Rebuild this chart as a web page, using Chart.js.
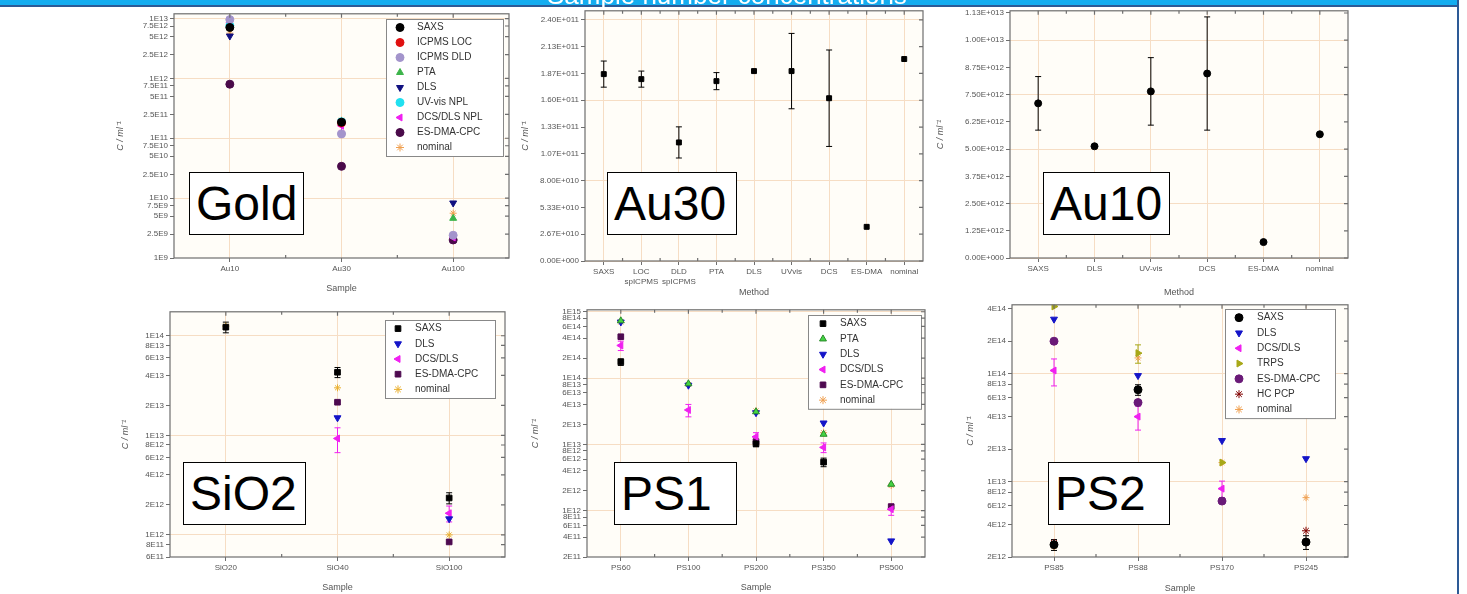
<!DOCTYPE html>
<html>
<head>
<meta charset="utf-8">
<script src="https://cdn.jsdelivr.net/npm/chart.js@4.4.1/dist/chart.umd.min.js"></script>
<style>
  body { margin: 0; width: 1467px; height: 594px; position: relative; overflow: hidden; background: #fff; font-family: "Liberation Sans", Arial, sans-serif; }
  .banner { position: absolute; left: 0; top: 0; width: 1457px; height: 5px; background: #14adf0; border-bottom: 2px solid #2d5a96; }
  .titlewrap { position: absolute; left: 0; top: 0; width: 1457px; height: 7px; overflow: hidden; z-index: 5; }
  .title { position: absolute; left: 547px; top: -18px; font-size: 26px; line-height: 26px; color: #fff; white-space: nowrap; }
  .rightline { position: absolute; left: 1457px; top: 0; width: 2px; height: 594px; background: #2d5a96; }
  canvas { position: absolute; }
  .tag { position: absolute; background: #fff; border: 1px solid #000; box-sizing: border-box; height: 63px; font-size: 48px; display: flex; align-items: center; padding-left: 6px; color: #000; z-index: 4; }
</style>
</head>
<body>
<div class="banner"></div>
<div class="rightline"></div>
<div class="titlewrap"><div class="title">Sample number concentrations</div></div>

<div class="tag" style="left:189px;top:172px;width:115px;">Gold</div>
<div class="tag" style="left:607px;top:172px;width:130px;">Au30</div>
<div class="tag" style="left:1043px;top:172px;width:127px;">Au10</div>
<div class="tag" style="left:183px;top:462px;width:123px;">SiO2</div>
<div class="tag" style="left:614px;top:462px;width:123px;">PS1</div>
<div class="tag" style="left:1048px;top:462px;width:122px;">PS2</div>

<script>
// ---- Gold (log) ----
const goldSamples = ['Au10', 'Au30', 'Au100'];
const goldSAXS    = [7.1e12, 1.86e11, null];
const goldIcpLoc  = [null, 1.81e11, null];
const goldIcpDld  = [9.6e12, 1.18e11, 2.4e9];
const goldPTA     = [null, 1.79e11, 4.6e9];
const goldDLS     = [5.1e12, 1.89e11, 8.3e9];
const goldUV      = [7.6e12, 1.89e11, null];
const goldDCS     = [8.5e12, 1.62e11, 2.2e9];
const goldDCSErr  = [1.5e12, 3e10, 4e8];
const goldESDMA   = [8.0e11, 3.4e10, 2.0e9];
const goldNominal = [5.7e12, 2.0e11, 5.6e9];
const goldTicks = [1e9, 2.5e9, 5e9, 7.5e9, 1e10, 2.5e10, 5e10, 7.5e10, 1e11, 2.5e11, 5e11, 7.5e11, 1e12, 2.5e12, 5e12, 7.5e12, 1e13];
const goldGrid = [1e10, 1e11, 1e12, 1e13];

// ---- Au30 (linear) ----
const au30Methods = ['SAXS', ['LOC', 'spICPMS'], ['DLD', 'spICPMS'], 'PTA', 'DLS', 'UVvis', 'DCS', 'ES-DMA', 'nominal'];
const au30Conc = [1.86e11, 1.81e11, 1.18e11, 1.79e11, 1.89e11, 1.89e11, 1.62e11, 3.4e10, 2.01e11];
const au30Err  = [1.3e10, 0.8e10, 1.55e10, 0.85e10, null, 3.75e10, 4.8e10, null, null];
const au30Ticks = [0, 2.6667e10, 5.3333e10, 8e10, 1.0667e11, 1.3333e11, 1.6e11, 1.8667e11, 2.1333e11, 2.4e11];
const au30Grid = [0, 8e10, 1.6e11, 2.4e11];

// ---- Au10 (linear) ----
const au10Methods = ['SAXS', 'DLS', 'UV-vis', 'DCS', 'ES-DMA', 'nominal'];
const au10Conc = [7.1e12, 5.13e12, 7.65e12, 8.47e12, 7.3e11, 5.68e12];
const au10Err  = [1.23e12, null, 1.55e12, 2.6e12, null, null];
const au10Ticks = [0, 1.25e12, 2.5e12, 3.75e12, 5e12, 6.25e12, 7.5e12, 8.75e12, 1e13, 1.125e13];
const au10Grid = [0, 2.5e12, 5e12, 7.5e12, 1e13];

// ---- SiO2 (log) ----
const siSamples = ['SiO20', 'SiO40', 'SiO100'];
const siSAXS    = [1.22e14, 4.3e13, 2.35e12];
const siSAXSErr = [1.5e13, 5e12, 3e11];
const siDLS     = [null, 1.5e13, 1.45e12];
const siDCS     = [null, 9.3e12, 1.65e12];
const siDCSErr  = [null, 2.6e12, 3e11];
const siESDMA   = [null, 2.15e13, 8.5e11];
const siNominal = [1.25e14, 3.0e13, 1.0e12];
const siTicks = [6e11, 8e11, 1e12, 2e12, 4e12, 6e12, 8e12, 1e13, 2e13, 4e13, 6e13, 8e13, 1e14];
const siGrid = [1e12, 1e13, 1e14];

// ---- PS1 (log) ----
const ps1Samples = ['PS60', 'PS100', 'PS200', 'PS350', 'PS500'];
const ps1SAXS    = [1.75e14, null, 1.02e13, 5.4e12, null];
const ps1SAXSErr = [2e13, null, 1e12, 8e11, null];
const ps1PTA     = [7.3e14, 8.2e13, 3.1e13, 1.42e13, 2.5e12];
const ps1DLS     = [7.0e14, 7.8e13, 3.0e13, 2.1e13, 3.5e11];
const ps1DCS     = [3.1e14, 3.3e13, 1.3e13, 9.0e12, 1.05e12];
const ps1DCSErr  = [5e13, 7e12, 2e12, 1.5e12, 2e11];
const ps1ESDMA   = [4.2e14, null, 1.1e13, null, 1.15e12];
const ps1Nominal = [7.0e14, 8.0e13, 3.2e13, 1.5e13, 2.4e12];
const ps1Ticks = [2e11, 4e11, 6e11, 8e11, 1e12, 2e12, 4e12, 6e12, 8e12, 1e13, 2e13, 4e13, 6e13, 8e13, 1e14, 2e14, 4e14, 6e14, 8e14, 1e15];
const ps1Grid = [1e12, 1e13, 1e14, 1e15];

// ---- PS2 (log) ----
const ps2Samples = ['PS85', 'PS88', 'PS170', 'PS245'];
const ps2SAXS    = [2.6e12, 7.1e13, null, 2.75e12];
const ps2SAXSErr = [3e11, 8e12, null, 4e11];
const ps2DLS     = [3.2e14, 9.6e13, 2.4e13, 1.63e13];
const ps2DCS     = [1.07e14, 4.0e13, 8.6e12, null];
const ps2DCSErr  = [3e13, 1e13, 1.5e12, null];
const ps2TRPS    = [4.2e14, 1.55e14, 1.5e13, null];
const ps2TRPSErr = [null, 3e13, null, null];
const ps2ESDMA   = [2.0e14, 5.4e13, 6.6e12, null];
const ps2HCPCP   = [2.7e12, null, null, 3.5e12];
const ps2Nominal = [2.5e12, 1.4e14, 1.5e13, 7.1e12];
const ps2Ticks = [2e12, 4e12, 6e12, 8e12, 1e13, 2e13, 4e13, 6e13, 8e13, 1e14, 2e14, 4e14];
const ps2Grid = [1e13, 1e14];

const GRID = '#f6ddc4';
const AXIS = '#6e6e6e';
const TXT = '#555';
const FONT = "'Liberation Sans', Arial, sans-serif";
Chart.defaults.font.family = FONT;

function fmtShort(v) {
  const e = Math.floor(Math.log10(v) + 1e-9);
  const m = +(v / Math.pow(10, e)).toFixed(2);
  return m + 'E' + e;
}
function fmtOrigin(v) {
  if (v === 0) return '0.00E+000';
  let e = Math.floor(Math.log10(v) + 1e-9);
  let m = v / Math.pow(10, e);
  return m.toFixed(2) + 'E+' + String(e).padStart(3, '0');
}

// plot background, frame and mirrored ticks
const frame = {
  id: 'frame',
  beforeDraw(chart) {
    const {ctx, chartArea: a} = chart;
    ctx.save();
    ctx.fillStyle = '#fffdf8';
    ctx.fillRect(a.left, a.top, a.width, a.height);
    ctx.restore();
  },
  afterDraw(chart) {
    const {ctx, chartArea: a, scales: {x, y}} = chart;
    ctx.save();
    ctx.strokeStyle = AXIS;
    ctx.lineWidth = 1.2;
    ctx.strokeRect(a.left, a.top, a.width, a.height);
    ctx.beginPath();
    y.ticks.forEach(t => {
      const py = y.getPixelForValue(t.value);
      ctx.moveTo(a.right, py); ctx.lineTo(a.right - 4, py);
    });
    const n = x.ticks.length;
    const step = n > 1 ? x.getPixelForValue(1) - x.getPixelForValue(0) : 0;
    for (let i = 0; i < n; i++) {
      const px = x.getPixelForValue(i);
      ctx.moveTo(px, a.top); ctx.lineTo(px, a.top + 4);
      if (i < n - 1) {
        ctx.moveTo(px + step / 2, a.top); ctx.lineTo(px + step / 2, a.top + 3);
        ctx.moveTo(px + step / 2, a.bottom); ctx.lineTo(px + step / 2, a.bottom - 3);
      }
    }
    ctx.stroke();
    ctx.restore();
  }
};

const errorBars = {
  id: 'errorBars',
  beforeDatasetsDraw(chart) {
    const {ctx, scales: {y}} = chart;
    ctx.save();
    chart.data.datasets.forEach((ds, i) => {
      if (!ds.errors) return;
      const meta = chart.getDatasetMeta(i);
      ds.errors.forEach((e, j) => {
        const v = ds.data[j];
        if (!e || v == null) return;
        const px = meta.data[j].x;
        const lo = Math.max(v - e, y.min);
        const t = y.getPixelForValue(v + e), b = y.getPixelForValue(lo);
        ctx.strokeStyle = ds.borderColor;
        ctx.lineWidth = 1;
        ctx.beginPath();
        ctx.moveTo(px, t); ctx.lineTo(px, b);
        ctx.moveTo(px - 3, t); ctx.lineTo(px + 3, t);
        ctx.moveTo(px - 3, b); ctx.lineTo(px + 3, b);
        ctx.stroke();
      });
    });
    ctx.restore();
  }
};

const boxLegend = {
  id: 'boxLegend',
  afterDatasetsDraw(chart, args, opts) {
    if (!opts.box) return;
    const ctx = chart.ctx;
    const [bx, by, bw, rowH] = opts.box;
    const dss = chart.data.datasets;
    const bh = dss.length * rowH + 2;
    ctx.save();
    ctx.fillStyle = '#fff';
    ctx.fillRect(bx, by, bw, bh);
    ctx.strokeStyle = '#888';
    ctx.lineWidth = 1;
    ctx.strokeRect(bx + 0.5, by + 0.5, bw, bh);
    dss.forEach((ds, i) => {
      const cy = by + 1 + rowH * (i + 0.5);
      ctx.fillStyle = ds.backgroundColor;
      ctx.strokeStyle = ds.borderColor;
      ctx.lineWidth = 1;
      Chart.helpers.drawPoint(ctx, {pointStyle: ds.pointStyle, rotation: ds.rotation || 0, radius: 4, borderWidth: 1}, bx + opts.mx, cy);
      ctx.fillStyle = '#333';
      ctx.font = '10px ' + FONT;
      ctx.textBaseline = 'middle';
      ctx.fillText(ds.label, bx + opts.tx, cy);
    });
    ctx.restore();
  }
};

function panel(p) {
  const cv = document.createElement('canvas');
  const left = p.area[0] - p.yw, top = p.area[1] - 6;
  const w = p.area[2] - p.area[0] + p.yw + 6;
  const h = p.area[3] - p.area[1] + 6 + p.xh;
  cv.width = w; cv.height = h;
  cv.style.left = left + 'px'; cv.style.top = top + 'px';
  cv.style.width = w + 'px'; cv.style.height = h + 'px';
  document.body.appendChild(cv);
  let legendOpts = {};
  if (p.legend) {
    legendOpts = {box: [p.legend[0] - left, p.legend[1] - top, p.legend[2], p.legend[3]], mx: p.legend[4], tx: p.legend[5]};
  }
  new Chart(cv, {
    type: 'line',
    data: {
      labels: p.labels,
      datasets: p.series.map(s => ({
        label: s.name,
        data: s.data,
        errors: s.err || null,
        showLine: false,
        pointStyle: s.style,
        rotation: s.rot || 0,
        pointRadius: s.r || 4,
        pointHoverRadius: s.r || 4,
        pointBorderWidth: 1,
        backgroundColor: s.color,
        borderColor: s.edge || s.color
      }))
    },
    options: {
      responsive: false,
      animation: false,
      events: [],
      layout: {padding: {top: 6, right: 6, left: 0, bottom: 0}},
      plugins: {legend: {display: false}, tooltip: {enabled: false}, boxLegend: legendOpts},
      scales: {
        x: {
          type: 'category',
          offset: true,
          grid: {offset: false, color: GRID, tickColor: AXIS, tickLength: 4},
          border: {display: false},
          ticks: {font: {size: 8}, color: TXT, padding: 2, maxRotation: 0, autoSkip: false},
          title: {display: true, text: p.xTitle, font: {size: 9}, color: TXT, padding: 0},
          afterFit: s => { s.height = p.xh; }
        },
        y: {
          type: p.log ? 'logarithmic' : 'linear',
          min: p.min, max: p.max,
          bounds: 'data',
          afterBuildTicks: s => { s.ticks = p.ticks.map(v => ({value: v})); },
          grid: {color: c => (c.tick && p.grid.includes(c.tick.value)) ? GRID : 'rgba(0,0,0,0)', tickColor: AXIS, tickLength: 4},
          border: {display: false},
          ticks: {font: {size: 8}, color: TXT, padding: 2, autoSkip: false, callback: v => p.fmt(v)},
          title: {display: true, text: 'C / ml⁻¹', font: {size: 9, style: 'italic'}, color: TXT, padding: 0},
          afterFit: s => { s.width = p.yw; }
        }
      }
    },
    plugins: [frame, errorBars, boxLegend]
  });
}

panel({
  area: [174, 13, 509, 258], yw: 59, xh: 36, log: true, min: 1e9, max: 1.2e13,
  ticks: goldTicks, grid: goldGrid, fmt: fmtShort, labels: goldSamples, xTitle: 'Sample',
  legend: [386, 19, 117, 15, 14, 31],
  series: [
    {name: 'SAXS', data: goldSAXS, style: 'circle', color: '#000'},
    {name: 'ICPMS LOC', data: goldIcpLoc, style: 'circle', color: '#e01010'},
    {name: 'ICPMS DLD', data: goldIcpDld, style: 'circle', color: '#a394cc'},
    {name: 'PTA', data: goldPTA, style: 'triangle', color: '#3cb44a'},
    {name: 'DLS', data: goldDLS, style: 'triangle', rot: 180, color: '#101080'},
    {name: 'UV-vis NPL', data: goldUV, style: 'circle', color: '#20e0f0'},
    {name: 'DCS/DLS NPL', data: goldDCS, err: goldDCSErr, style: 'triangle', rot: -90, color: '#f020f0'},
    {name: 'ES-DMA-CPC', data: goldESDMA, style: 'circle', color: '#4a0a4a'},
    {name: 'nominal', data: goldNominal, style: 'star', color: '#f0a050', r: 3.5}
  ]
});

panel({
  area: [585, 10, 923, 261], yw: 65, xh: 37, log: false, min: 0, max: 2.49e11,
  ticks: au30Ticks, grid: au30Grid, fmt: fmtOrigin, labels: au30Methods, xTitle: 'Method',
  series: [{name: 'Au30', data: au30Conc, err: au30Err, style: 'rect', color: '#000', r: 3.5}]
});

panel({
  area: [1010, 10, 1348, 258], yw: 75, xh: 40, log: false, min: 0, max: 1.135e13,
  ticks: au10Ticks, grid: au10Grid, fmt: fmtOrigin, labels: au10Methods, xTitle: 'Method',
  series: [{name: 'Au10', data: au10Conc, err: au10Err, style: 'circle', color: '#000', r: 3.5}]
});

panel({
  area: [170, 311, 505, 557], yw: 50, xh: 36, log: true, min: 6e11, max: 1.74e14,
  ticks: siTicks, grid: siGrid, fmt: fmtShort, labels: siSamples, xTitle: 'Sample',
  legend: [385, 320, 110, 15.2, 13, 30],
  series: [
    {name: 'SAXS', data: siSAXS, err: siSAXSErr, style: 'rect', color: '#000'},
    {name: 'DLS', data: siDLS, style: 'triangle', rot: 180, color: '#1414c8'},
    {name: 'DCS/DLS', data: siDCS, err: siDCSErr, style: 'triangle', rot: -90, color: '#f020f0'},
    {name: 'ES-DMA-CPC', data: siESDMA, style: 'rect', color: '#4e0a50'},
    {name: 'nominal', data: siNominal, style: 'star', color: '#eab030', r: 3.5}
  ]
});

panel({
  area: [587, 309, 925, 557], yw: 57, xh: 36, log: true, min: 2e11, max: 1.07e15,
  ticks: ps1Ticks, grid: ps1Grid, fmt: fmtShort, labels: ps1Samples, xTitle: 'Sample',
  legend: [808, 315, 113, 15.3, 15, 32],
  series: [
    {name: 'SAXS', data: ps1SAXS, err: ps1SAXSErr, style: 'rect', color: '#000'},
    {name: 'PTA', data: ps1PTA, style: 'triangle', color: '#44d444', edge: '#2a8a2a'},
    {name: 'DLS', data: ps1DLS, style: 'triangle', rot: 180, color: '#1414c8'},
    {name: 'DCS/DLS', data: ps1DCS, err: ps1DCSErr, style: 'triangle', rot: -90, color: '#f020f0'},
    {name: 'ES-DMA-CPC', data: ps1ESDMA, style: 'rect', color: '#4e0a50'},
    {name: 'nominal', data: ps1Nominal, style: 'star', color: '#f0a050', r: 3.5}
  ]
});

panel({
  area: [1012, 304, 1348, 557], yw: 47, xh: 37, log: true, min: 2e12, max: 4.35e14,
  ticks: ps2Ticks, grid: ps2Grid, fmt: fmtShort, labels: ps2Samples, xTitle: 'Sample',
  legend: [1225, 309, 110, 15.3, 14, 32],
  series: [
    {name: 'SAXS', data: ps2SAXS, err: ps2SAXSErr, style: 'circle', color: '#000'},
    {name: 'DLS', data: ps2DLS, style: 'triangle', rot: 180, color: '#1414c8'},
    {name: 'DCS/DLS', data: ps2DCS, err: ps2DCSErr, style: 'triangle', rot: -90, color: '#f020f0'},
    {name: 'TRPS', data: ps2TRPS, err: ps2TRPSErr, style: 'triangle', rot: 90, color: '#a8a818'},
    {name: 'ES-DMA-CPC', data: ps2ESDMA, style: 'circle', color: '#6a1a78'},
    {name: 'HC PCP', data: ps2HCPCP, style: 'star', color: '#800000', r: 4},
    {name: 'nominal', data: ps2Nominal, style: 'star', color: '#f0a050', r: 3.5}
  ]
});
</script>
</body>
</html>
